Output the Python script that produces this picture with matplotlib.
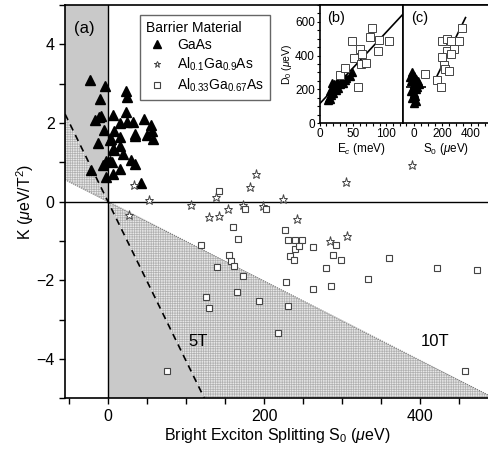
import matplotlib
matplotlib.use('Agg')
import matplotlib.pyplot as plt
from matplotlib.patches import Polygon
from matplotlib.ticker import MultipleLocator

plt.rcParams['font.family'] = ['Liberation Sans', 'DejaVu Sans']
plt.rcParams['mathtext.fontset'] = 'custom'
plt.rcParams['mathtext.rm'] = 'Liberation Sans'
plt.rcParams['mathtext.it'] = 'Liberation Sans:italic'
plt.rcParams['mathtext.bf'] = 'Liberation Sans:bold'
plt.rcParams['hatch.linewidth'] = 0.5

# main panel (a): S0 (ueV) vs K (ueV/T^2)
gaas_s = [-23, -4, -10, -16, -9, -12, -13, -5, -22, -7, -3, -3, 7, 4, 2, 5, 6, 8, 8, 16, 16,
          16, 19, 16, 23, 24, 23, 24, 32, 34, 34, 29, 35, 42, 46, 55, 50, 56, 58, 3, 7]
gaas_k = [3.1, 2.93, 2.62, 2.08, 2.17, 2.15, 1.49, 1.81, 0.81, 0.92, 1.03, 0.62, 2.19, 1.58,
          1.03, 1.0, 0.71, 1.30, 1.79, 2.0, 1.64, 1.41, 1.21, 0.83, 2.81, 2.66, 2.28, 2.03,
          2.03, 1.72, 1.68, 1.05, 0.95, 0.47, 2.1, 1.96, 1.7, 1.79, 1.58, 1.56, 1.34]

al01_s = [33, 53, 27, 106, 129, 142, 154, 138, 173, 182, 190, 198, 224, 242, 284, 306, 305, 390]
al01_k = [0.42, 0.04, -0.33, -0.08, -0.39, -0.36, -0.18, 0.12, -0.08, 0.36, 0.70, -0.1, 0.07,
          -0.43, -0.99, -0.87, 0.51, 0.92]

al33_s = [142, 176, 203, 160, 167, 119, 155, 158, 162, 139, 173, 227, 230, 240, 248, 240, 245,
          233, 238, 263, 292, 288, 299, 360, 279, 422, 472, 333, 228, 263, 286, 193, 230, 218,
          457, 165, 125, 130, 75]
al33_k = [0.26, -0.2, -0.2, -0.65, -0.96, -1.11, -1.37, -1.5, -1.63, -1.66, -1.9, -0.73, -0.98,
          -0.97, -0.98, -1.2, -1.12, -1.39, -1.49, -1.15, -1.11, -1.35, -1.48, -1.44, -1.70,
          -1.70, -1.74, -1.98, -2.04, -2.23, -2.15, -2.53, -2.65, -3.34, -4.3, -2.31, -2.43,
          -2.7, -4.3]

# slopes of the 5T and 10T boundary lines (K / S0)
slope_5t = -0.0405
slope_10t = -0.0101

# inset (b): Ec (meV) vs D0 (ueV)
b_tri_ec = [12, 14, 15, 17, 16, 18, 20, 22, 24, 26, 28, 30, 32, 35, 38, 40, 45, 48, 20, 25, 19]
b_tri_d0 = [135, 150, 140, 165, 190, 205, 215, 230, 220, 245, 210, 230, 250, 240, 255, 265,
            280, 300, 180, 195, 240]
b_sq_ec = [30, 38, 51, 49, 61, 64, 62, 70, 58, 75, 79, 88, 89, 104]
b_sq_d0 = [285, 325, 386, 487, 438, 412, 350, 353, 216, 511, 564, 426, 495, 487]
b_fit_ec = [0, 125]
b_fit_d0 = [115, 645]

# inset (c): S0 (ueV) vs D0 (ueV)
c_tri_s = [-10, 5, 20, -20, 10, 30, 0, -5, 15, 25, -15, 5, 10, -10, 20, 0, 40, -25]
c_tri_d0 = [300, 280, 260, 250, 240, 250, 230, 210, 200, 215, 190, 180, 160, 150, 130, 120,
            230, 270]
c_sq_s = [342, 201, 236, 260, 318, 236, 283, 260, 201, 213, 224, 248, 166, 190, 80]
c_sq_d0 = [564, 487, 499, 487, 487, 426, 438, 412, 392, 345, 321, 311, 257, 216, 291]
c_fit_s = [145, 365]
c_fit_d0 = [245, 625]
c_avg_s = [-55, 90]
c_avg_d0 = [212, 212]

fig = plt.figure(figsize=(4.89, 4.49), dpi=100)
ax = fig.add_axes([0.133, 0.113, 0.867, 0.876])
xmin, xmax = -55, 488
ymin, ymax = -5, 5
ax.set_xlim(xmin, xmax)
ax.set_ylim(ymin, ymax)

gray = '#c9c9c9'
s5_bottom = ymin / slope_5t
ax.add_patch(Polygon([(xmin, ymax), (0, ymax), (0, 0), (xmin, slope_5t * xmin)],
                     facecolor=gray, edgecolor='none', zorder=0))
ax.add_patch(Polygon([(0, 0), (s5_bottom, ymin), (0, ymin)],
                     facecolor=gray, edgecolor='none', zorder=0))
ax.add_patch(Polygon([(xmin, slope_5t * xmin), (0, 0), (xmin, slope_10t * xmin)],
                     facecolor='#e8e8e8', edgecolor='#b0b0b0', hatch='+++++++', lw=0, zorder=0))
ax.add_patch(Polygon([(0, 0), (xmax, slope_10t * xmax), (xmax, ymin), (s5_bottom, ymin)],
                     facecolor='#e8e8e8', edgecolor='#b0b0b0', hatch='+++++++', lw=0, zorder=0))
ax.plot([xmin, xmax], [slope_10t * xmin, slope_10t * xmax], ls=(0, (1, 1)), color='#777777', lw=0.8, zorder=1)
ax.plot([xmin, s5_bottom], [slope_5t * xmin, ymin], ls=(0, (4, 3)), color='k', lw=1.2, zorder=2)
ax.axvline(0, color='k', lw=1.0, zorder=2)
ax.axhline(0, color='k', lw=1.0, zorder=2)

ax.plot(gaas_s, gaas_k, ls='none', marker='^', color='k', ms=7, zorder=3, label='GaAs')
ax.plot(al01_s, al01_k, ls='none', marker='*', mfc='white', mec='#444444', mew=0.7, ms=6.5,
        zorder=3, label='Al$_{0.1}$Ga$_{0.9}$As')
ax.plot(al33_s, al33_k, ls='none', marker='s', mfc='white', mec='#444444', mew=0.8, ms=5,
        zorder=3, label='Al$_{0.33}$Ga$_{0.67}$As')

ax.text(-44, 4.6, '(a)', fontsize=12, va='top')
ax.text(103, -3.55, '5T', fontsize=12, va='center')
ax.text(400, -3.55, '10T', fontsize=12, va='center')

ax.xaxis.set_major_locator(MultipleLocator(200))
ax.xaxis.set_minor_locator(MultipleLocator(50))
ax.yaxis.set_major_locator(MultipleLocator(2))
ax.yaxis.set_minor_locator(MultipleLocator(1))
ax.tick_params(which='both', direction='out', length=4, width=1, labelsize=11.5)
ax.spines['right'].set_visible(False)
for sp in ['left', 'top', 'bottom']:
    ax.spines[sp].set_linewidth(1.2)
ax.set_xlabel('Bright Exciton Splitting S$_0$ ($\\mu$eV)', fontsize=11.5, labelpad=2)
ax.set_ylabel('K ($\\mu$eV/T$^2$)', fontsize=11.5, labelpad=0)

leg = ax.legend(loc='upper left', bbox_to_anchor=(0.272, 0.983), bbox_transform=fig.transFigure,
                title='Barrier Material', fontsize=10, title_fontsize=10, fancybox=False,
                edgecolor='#666666', framealpha=1, borderpad=0.45, labelspacing=0.25,
                handletextpad=0.6, handlelength=1.6, markerscale=0.75)
leg._legend_box.align = 'left'
leg.get_frame().set_linewidth(1.0)

# inset (b)
axb = fig.add_axes([0.654, 0.726, 0.170, 0.263])
axb.plot(b_fit_ec, b_fit_d0, color='k', lw=1.2)
axb.plot(b_tri_ec, b_tri_d0, ls='none', marker='^', color='k', ms=6)
axb.plot(b_sq_ec, b_sq_d0, ls='none', marker='s', mfc='white', mec='#444444', mew=0.7, ms=5.5)
axb.set_xlim(0, 125)
axb.set_ylim(0, 700)
axb.xaxis.set_major_locator(MultipleLocator(50))
axb.xaxis.set_minor_locator(MultipleLocator(10))
axb.yaxis.set_major_locator(MultipleLocator(200))
axb.yaxis.set_minor_locator(MultipleLocator(50))
axb.tick_params(which='both', direction='out', length=2.5, width=0.8, labelsize=8.5, pad=1)
axb.set_xlabel('E$_c$ (meV)', fontsize=8.5, labelpad=1)
axb.set_ylabel('D$_0$ ($\\mu$eV)', fontsize=7.5, labelpad=1)
axb.text(0.09, 0.95, '(b)', transform=axb.transAxes, fontsize=10.5, va='top')

# inset (c)
axc = fig.add_axes([0.824, 0.726, 0.176, 0.263])
axc.plot(c_fit_s, c_fit_d0, color='k', lw=1.2)
axc.plot(c_avg_s, c_avg_d0, color='k', lw=1.2, ls=(0, (3, 2)))
axc.plot(c_tri_s, c_tri_d0, ls='none', marker='^', color='k', ms=6)
axc.plot(c_sq_s, c_sq_d0, ls='none', marker='s', mfc='white', mec='#444444', mew=0.7, ms=5.5)
axc.set_xlim(-75, 530)
axc.set_ylim(0, 700)
axc.xaxis.set_major_locator(MultipleLocator(200))
axc.xaxis.set_minor_locator(MultipleLocator(50))
axc.tick_params(which='both', direction='out', length=2.5, width=0.8, labelsize=8.5, pad=1)
axc.tick_params(axis='y', which='both', left=False, labelleft=False)
axc.spines['right'].set_visible(False)
axc.set_xlabel('S$_0$ ($\\mu$eV)', fontsize=8.5, labelpad=1)
axc.text(0.1, 0.95, '(c)', transform=axc.transAxes, fontsize=10.5, va='top')

for a in (axb, axc):
    for sp in a.spines.values():
        sp.set_linewidth(1.2)

fig.savefig('out.png', dpi=100)
